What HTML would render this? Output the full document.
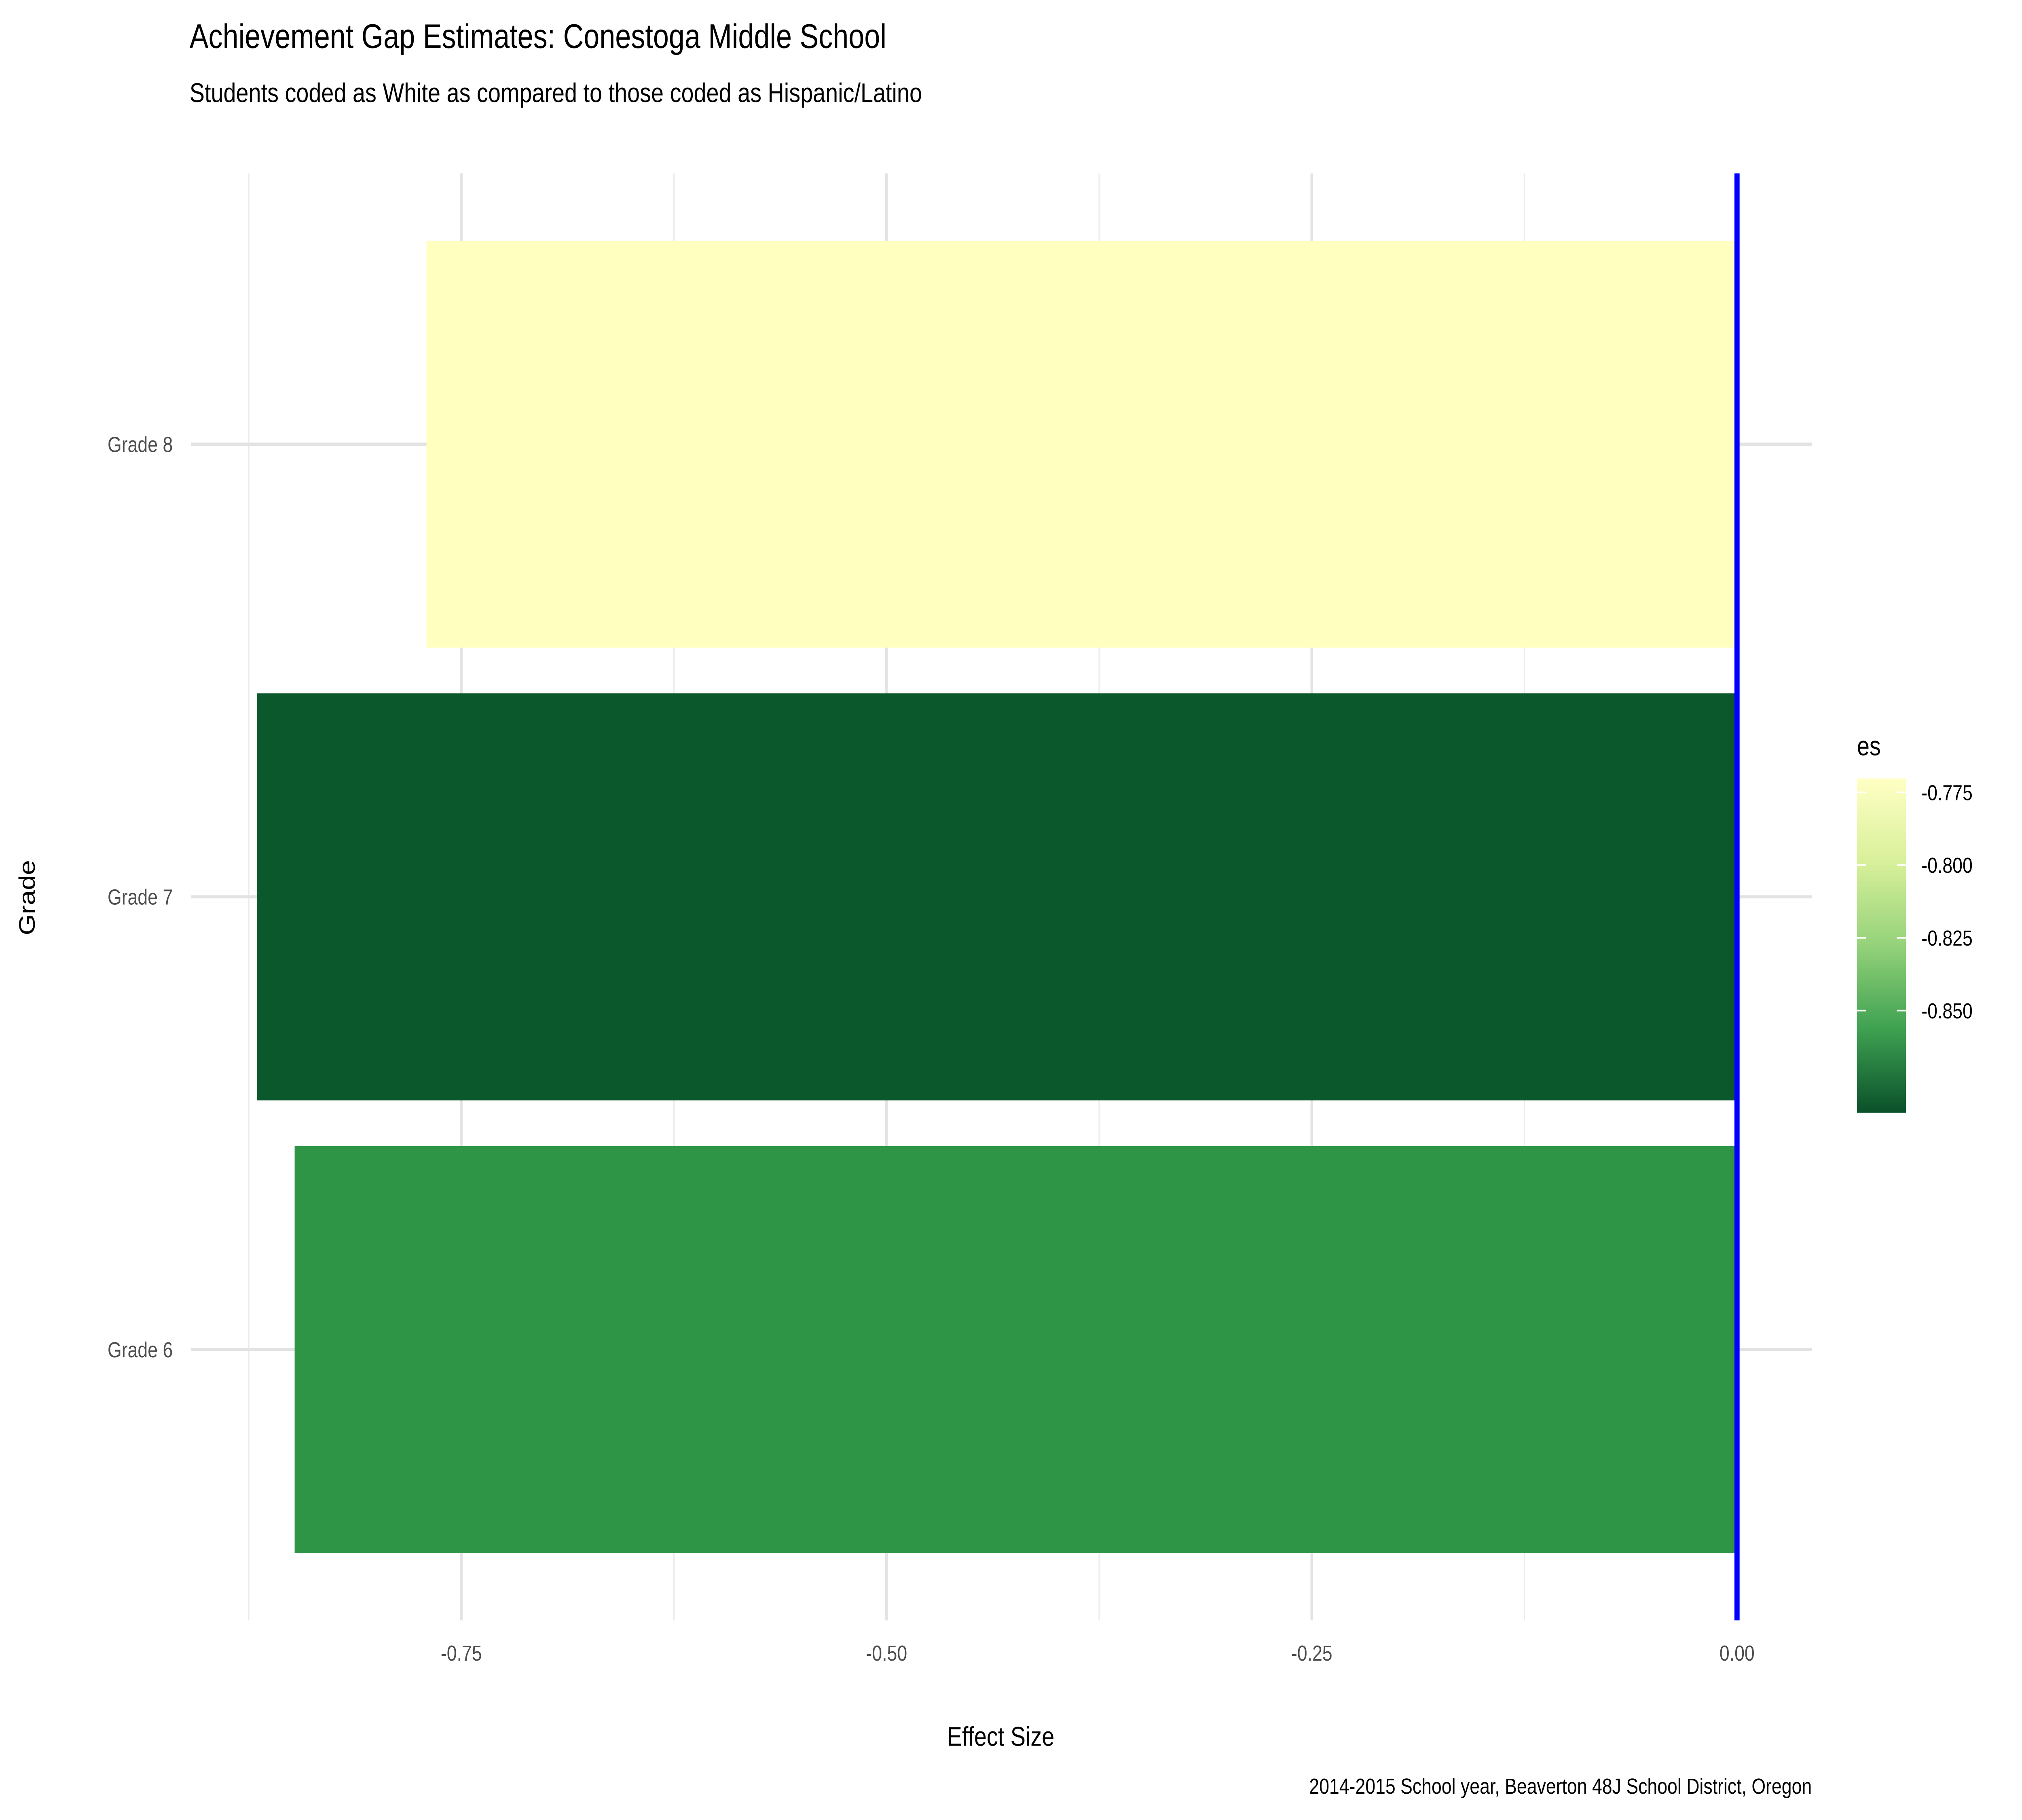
<!DOCTYPE html>
<html><head><meta charset="utf-8"><style>html,body{margin:0;padding:0;background:#fff;width:100vw;height:100vh;overflow:hidden}svg{display:block;width:100vw;height:100vh}</style></head>
<body>
<svg id="chart" viewBox="0 0 1568 1176" preserveAspectRatio="none" xmlns="http://www.w3.org/2000/svg" font-family="Liberation Sans, sans-serif">
<defs><linearGradient id="cb" x1="0" y1="0" x2="0" y2="1">
<stop offset="0" stop-color="#FFFFC4"/><stop offset="0.25" stop-color="#D8F09A"/><stop offset="0.5" stop-color="#94D27A"/><stop offset="0.75" stop-color="#3EA151"/><stop offset="1" stop-color="#0A502A"/></linearGradient></defs>
<text x="147" y="31" font-size="22" fill="#000">Achievement Gap Estimates: Conestoga Middle School</text>
<text x="147" y="66" font-size="17.5" fill="#000">Students coded as White as compared to those coded as Hispanic/Latino</text>
<g id="grid"></g><g id="bars"></g><g id="ticks"></g>
<text transform="translate(27,580) rotate(-90)" text-anchor="middle" font-size="17.5">Grade</text>
<text x="776" y="1128" text-anchor="middle" font-size="17.5">Effect Size</text>
<text x="1405" y="1159" text-anchor="end" font-size="14">2014-2015 School year, Beaverton  48J School District, Oregon</text>
<g>
<text x="1440" y="488" font-size="17.5">es</text>
<rect x="1440" y="503" width="38" height="216" fill="url(#cb)"/>
<g id="legend-ticks"></g>
</g>
</svg>
<script>
const grades = ["Grade 6","Grade 7","Grade 8"];
const esValues = [-0.848, -0.870, -0.7705];
const barColors = ["#2E9446","#0C582D","#FFFFC0"];
const xTicks = [-0.75, -0.5, -0.25, 0];
const xTickLabels = ["-0.75","-0.50","-0.25","0.00"];
const xMinor = [-0.875, -0.625, -0.375, -0.125];
const legendTicks = [-0.775, -0.800, -0.825, -0.850];
const legendLabels = ["-0.775","-0.800","-0.825","-0.850"];
const NS="http://www.w3.org/2000/svg";
const x = v => 1347 + v*1319;
const y = i => 872 - i*292.5;
const ly = v => 512 + (-0.775 - v)*1880;
function mk(t,a,p){const e=document.createElementNS(NS,t);for(const k in a)e.setAttribute(k,a[k]);p.appendChild(e);return e;}
const grid=document.getElementById('grid'),bars=document.getElementById('bars'),ticks=document.getElementById('ticks'),lt=document.getElementById('legend-ticks');
xMinor.forEach(v=>{const l=mk('line',{x1:x(v),x2:x(v),y1:112,y2:1047,stroke:'#EBEBEB','stroke-width':1},grid);

});
xTicks.forEach((v,i)=>{const l=mk('line',{x1:x(v),x2:x(v),y1:112,y2:1047,stroke:'#E3E3E3','stroke-width':2},grid);


const t=mk('text',{x:x(v),y:1073,'text-anchor':'middle','font-size':14,fill:'#4D4D4D'},ticks);t.textContent=xTickLabels[i];

});
grades.forEach((g,i)=>{const l=mk('line',{x1:148,x2:1405,y1:y(i),y2:y(i),stroke:'#E3E3E3','stroke-width':2},grid);


const t=mk('text',{x:134,y:y(i)+5,'text-anchor':'end','font-size':14,fill:'#4D4D4D'},ticks);t.textContent=g;


const v=esValues[i];const r=mk('rect',{x:x(v),y:y(i)-131.5,width:x(0)-x(v),height:263,fill:barColors[i]},bars);

});
const z=mk('line',{x1:x(0),x2:x(0),y1:112,y2:1047,stroke:'#0000FF','stroke-width':4},bars);


legendTicks.forEach((v,i)=>{
mk('line',{x1:1440,x2:1447,y1:ly(v),y2:ly(v),stroke:'#fff','stroke-width':1},lt);
mk('line',{x1:1471,x2:1478,y1:ly(v),y2:ly(v),stroke:'#fff','stroke-width':1},lt);
const t=mk('text',{x:1490,y:ly(v)+5,'font-size':14,fill:'#000'},lt);t.textContent=legendLabels[i];

});
</script>
</body></html>
